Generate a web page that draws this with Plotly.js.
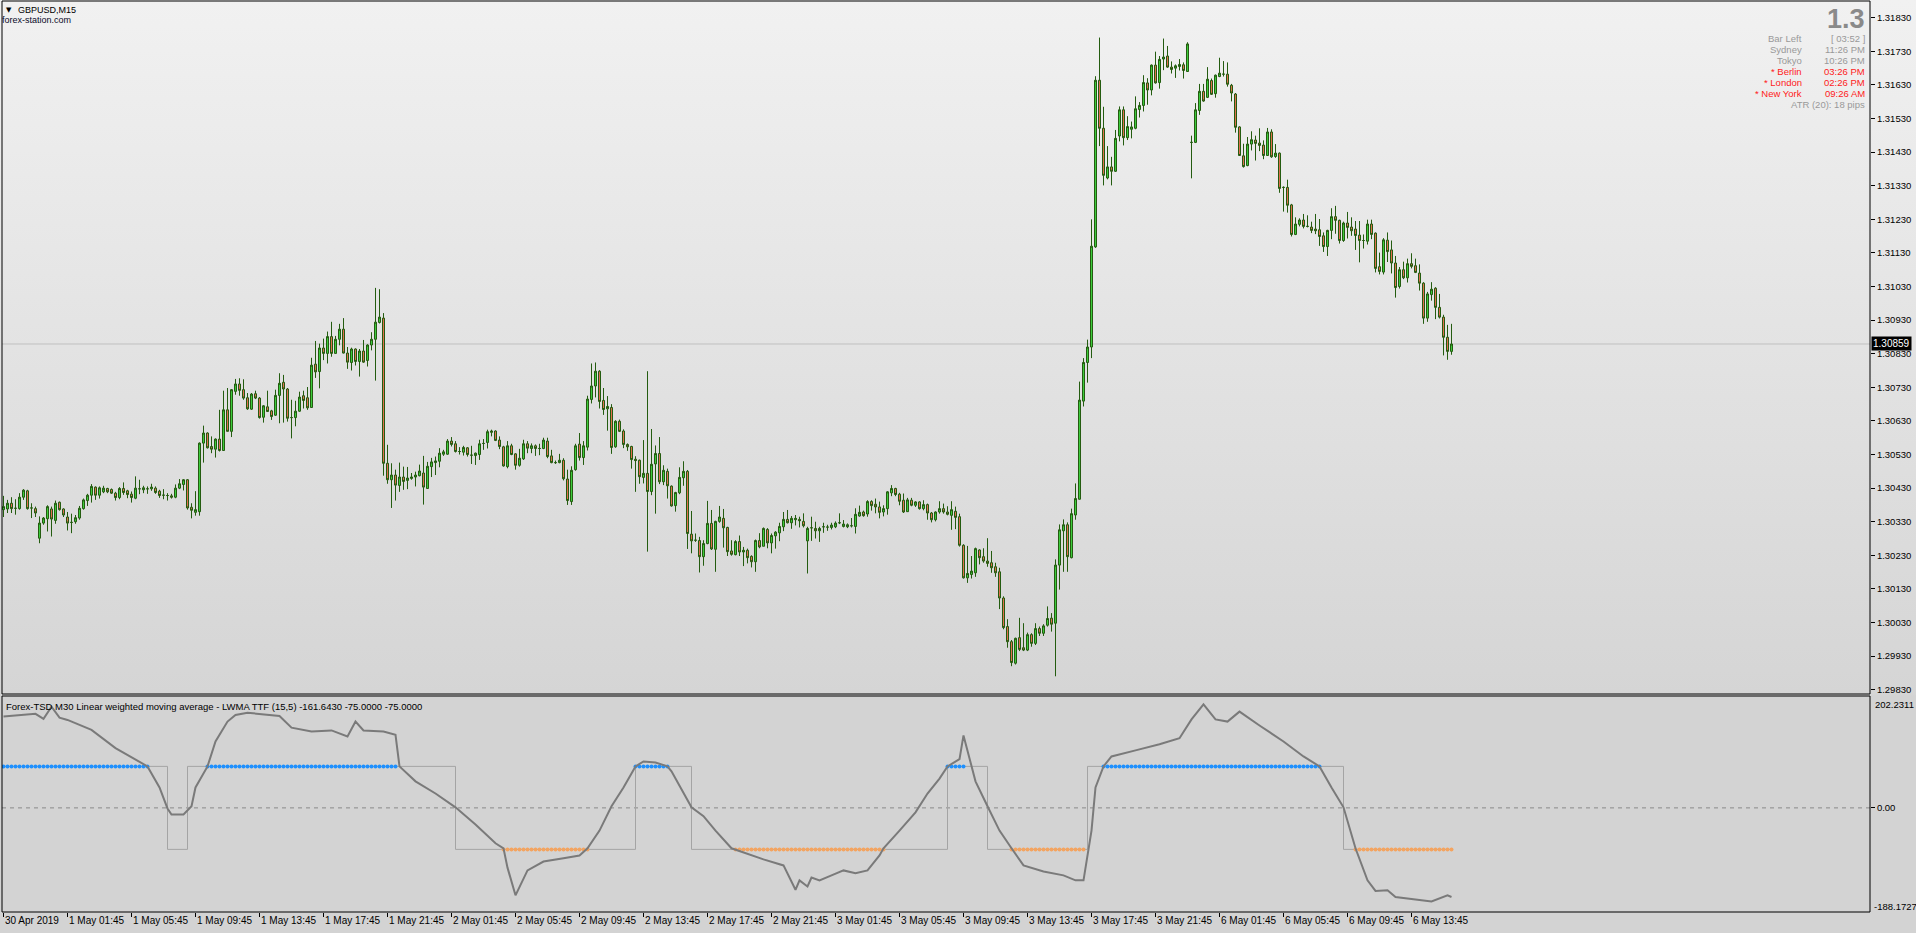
<!DOCTYPE html>
<html><head><meta charset="utf-8">
<script src="https://cdn.plot.ly/plotly-3.0.1.min.js"></script>
<style>
html,body{margin:0;padding:0;width:1916px;height:933px;overflow:hidden;
background:linear-gradient(to bottom,#f1f1f1 0px,#d5d5d5 694px,#d3d3d3 696px,#d3d3d3 933px);}
#chart{width:1916px;height:933px;}
</style></head><body><div id="chart"></div>
<script>
// ---------------- DATA ----------------
const symbolTitle = "GBPUSD,M15";
const siteTitle = "forex-station.com";
const indicatorTitle = "Forex-TSD M30 Linear weighted moving average - LWMA TTF (15,5) -161.6430 -75.0000 -75.0000";

const open = [1.30366,1.30368,1.30385,1.30370,1.30369,1.30403,1.30422,1.30371,1.30369,1.30281,
1.30326,1.30339,1.30368,1.30334,1.30388,1.30368,1.30344,1.30328,1.30330,1.30341,
1.30369,1.30393,1.30409,1.30433,1.30409,1.30419,1.30429,1.30426,1.30415,1.30402,
1.30429,1.30422,1.30412,1.30400,1.30428,1.30425,1.30428,1.30428,1.30430,1.30421,
1.30409,1.30408,1.30407,1.30403,1.30430,1.30441,1.30455,1.30373,1.30358,1.30360,
1.30564,1.30594,1.30554,1.30546,1.30576,1.30542,1.30663,1.30599,1.30718,1.30740,
1.30723,1.30699,1.30665,1.30711,1.30698,1.30641,1.30672,1.30660,1.30647,1.30706,
1.30745,1.30725,1.30640,1.30640,1.30659,1.30705,1.30699,1.30670,1.30799,1.30777,
1.30847,1.30831,1.30881,1.30831,1.30873,1.30903,1.30832,1.30804,1.30844,1.30807,
1.30838,1.30810,1.30856,1.30873,1.30923,1.30936,1.30504,1.30455,1.30469,1.30438,
1.30463,1.30453,1.30459,1.30463,1.30467,1.30475,1.30429,1.30494,1.30506,1.30510,
1.30531,1.30531,1.30570,1.30562,1.30539,1.30537,1.30550,1.30528,1.30527,1.30530,
1.30563,1.30566,1.30596,1.30600,1.30573,1.30553,1.30494,1.30556,1.30532,1.30498,
1.30517,1.30562,1.30548,1.30556,1.30548,1.30548,1.30570,1.30526,1.30506,1.30506,
1.30513,1.30457,1.30390,1.30485,1.30561,1.30521,1.30552,1.30694,1.30734,1.30778,
1.30691,1.30666,1.30670,1.30553,1.30629,1.30600,1.30560,1.30554,1.30516,1.30513,
1.30462,1.30474,1.30420,1.30502,1.30533,1.30449,1.30480,1.30436,1.30378,1.30416,
1.30461,1.30480,1.30293,1.30275,1.30274,1.30226,1.30265,1.30325,1.30248,1.30331,
1.30340,1.30313,1.30243,1.30232,1.30271,1.30240,1.30245,1.30227,1.30211,1.30274,
1.30257,1.30307,1.30267,1.30288,1.30297,1.30315,1.30337,1.30327,1.30336,1.30337,
1.30331,1.30273,1.30312,1.30310,1.30303,1.30315,1.30314,1.30313,1.30315,1.30327,
1.30316,1.30315,1.30318,1.30316,1.30347,1.30359,1.30353,1.30390,1.30382,1.30374,
1.30359,1.30369,1.30416,1.30429,1.30412,1.30394,1.30360,1.30394,1.30379,1.30389,
1.30369,1.30381,1.30356,1.30336,1.30359,1.30369,1.30359,1.30349,1.30361,1.30345,
1.30260,1.30163,1.30173,1.30178,1.30246,1.30226,1.30213,1.30208,1.30196,1.30181,
1.30103,1.30018,1.29973,1.29909,1.29985,1.29955,1.29948,1.29994,1.29968,1.30012,
1.29998,1.30022,1.30043,1.30028,1.30201,1.30303,1.30321,1.30223,1.30350,1.30397,
1.30689,1.30804,1.30850,1.31148,1.31644,1.31501,1.31353,1.31386,1.31373,1.31478,
1.31556,1.31473,1.31498,1.31501,1.31557,1.31569,1.31636,1.31615,1.31689,1.31637,
1.31707,1.31716,1.31683,1.31680,1.31685,1.31690,1.31670,1.31459,1.31459,1.31554,
1.31611,1.31593,1.31643,1.31604,1.31655,1.31662,1.31662,1.31629,1.31603,1.31505,
1.31419,1.31390,1.31454,1.31466,1.31457,1.31451,1.31420,1.31490,1.31417,1.31427,
1.31325,1.31325,1.31273,1.31185,1.31215,1.31228,1.31209,1.31207,1.31201,1.31199,
1.31181,1.31149,1.31197,1.31238,1.31227,1.31167,1.31219,1.31207,1.31201,1.31183,
1.31167,1.31165,1.31216,1.31189,1.31089,1.31073,1.31168,1.31139,1.31100,1.31030,
1.31080,1.31056,1.31098,1.31092,1.31070,1.31040,1.30936,1.31006,1.31025,1.30968,
1.30939,1.30879,1.30837];

const high = [1.30407,1.30395,1.30403,1.30397,1.30415,1.30427,1.30425,1.30385,1.30375,1.30346,
1.30344,1.30379,1.30375,1.30393,1.30390,1.30370,1.30359,1.30354,1.30350,1.30377,
1.30399,1.30413,1.30442,1.30435,1.30435,1.30437,1.30431,1.30429,1.30419,1.30433,
1.30447,1.30425,1.30420,1.30465,1.30455,1.30437,1.30435,1.30443,1.30435,1.30425,
1.30427,1.30415,1.30413,1.30441,1.30457,1.30457,1.30457,1.30385,1.30421,1.30566,
1.30616,1.30596,1.30584,1.30578,1.30663,1.30720,1.30728,1.30725,1.30755,1.30757,
1.30754,1.30713,1.30713,1.30720,1.30701,1.30677,1.30720,1.30663,1.30723,1.30772,
1.30767,1.30728,1.30693,1.30690,1.30717,1.30720,1.30731,1.30818,1.30868,1.30860,
1.30875,1.30896,1.30925,1.30883,1.30919,1.30936,1.30850,1.30848,1.30846,1.30844,
1.30871,1.30858,1.30894,1.31026,1.31022,1.30951,1.30559,1.30504,1.30485,1.30506,
1.30494,1.30493,1.30475,1.30479,1.30500,1.30526,1.30508,1.30520,1.30524,1.30549,
1.30544,1.30576,1.30582,1.30570,1.30552,1.30556,1.30552,1.30556,1.30536,1.30574,
1.30576,1.30604,1.30604,1.30602,1.30584,1.30556,1.30570,1.30562,1.30534,1.30547,
1.30574,1.30570,1.30563,1.30560,1.30562,1.30580,1.30580,1.30544,1.30512,1.30532,
1.30519,1.30485,1.30495,1.30562,1.30594,1.30570,1.30705,1.30801,1.30804,1.30781,
1.30728,1.30704,1.30680,1.30632,1.30634,1.30605,1.30563,1.30556,1.30525,1.30515,
1.30573,1.30778,1.30606,1.30557,1.30582,1.30498,1.30488,1.30438,1.30419,1.30492,
1.30510,1.30484,1.30362,1.30295,1.30285,1.30275,1.30392,1.30365,1.30333,1.30377,
1.30368,1.30315,1.30275,1.30275,1.30289,1.30255,1.30250,1.30230,1.30277,1.30296,
1.30313,1.30311,1.30295,1.30302,1.30327,1.30359,1.30365,1.30347,1.30350,1.30345,
1.30355,1.30315,1.30345,1.30330,1.30315,1.30327,1.30321,1.30327,1.30331,1.30355,
1.30335,1.30325,1.30341,1.30370,1.30378,1.30363,1.30394,1.30394,1.30399,1.30390,
1.30379,1.30421,1.30439,1.30431,1.30416,1.30414,1.30401,1.30401,1.30391,1.30391,
1.30394,1.30384,1.30359,1.30361,1.30391,1.30384,1.30376,1.30391,1.30375,1.30354,
1.30263,1.30258,1.30228,1.30253,1.30248,1.30251,1.30281,1.30243,1.30208,1.30193,
1.30108,1.30040,1.29978,1.29985,1.30044,1.30028,1.30000,1.29998,1.30028,1.30018,
1.30025,1.30078,1.30058,1.30218,1.30322,1.30337,1.30328,1.30369,1.30444,1.30747,
1.30817,1.30872,1.31230,1.31656,1.31771,1.31565,1.31448,1.31416,1.31496,1.31566,
1.31566,1.31537,1.31521,1.31596,1.31579,1.31659,1.31650,1.31691,1.31729,1.31716,
1.31768,1.31746,1.31700,1.31691,1.31707,1.31697,1.31757,1.31479,1.31576,1.31633,
1.31633,1.31683,1.31649,1.31661,1.31711,1.31701,1.31697,1.31633,1.31606,1.31507,
1.31455,1.31475,1.31492,1.31479,1.31501,1.31465,1.31502,1.31498,1.31454,1.31429,
1.31328,1.31348,1.31276,1.31236,1.31233,1.31246,1.31242,1.31223,1.31246,1.31231,
1.31191,1.31199,1.31263,1.31270,1.31229,1.31223,1.31252,1.31236,1.31225,1.31225,
1.31185,1.31229,1.31229,1.31191,1.31131,1.31174,1.31191,1.31167,1.31121,1.31088,
1.31104,1.31113,1.31129,1.31113,1.31096,1.31043,1.31014,1.31043,1.31028,1.31008,
1.30946,1.30916,1.30919];

const low = [1.30344,1.30356,1.30356,1.30351,1.30366,1.30395,1.30366,1.30341,1.30344,1.30266,
1.30321,1.30301,1.30286,1.30324,1.30363,1.30344,1.30304,1.30296,1.30324,1.30336,
1.30366,1.30377,1.30387,1.30395,1.30399,1.30415,1.30415,1.30413,1.30393,1.30397,
1.30410,1.30400,1.30387,1.30397,1.30412,1.30415,1.30413,1.30422,1.30413,1.30401,
1.30397,1.30393,1.30399,1.30400,1.30427,1.30423,1.30366,1.30340,1.30348,1.30348,
1.30506,1.30548,1.30534,1.30521,1.30539,1.30542,1.30599,1.30582,1.30708,1.30705,
1.30693,1.30663,1.30663,1.30695,1.30637,1.30625,1.30657,1.30633,1.30645,1.30623,
1.30625,1.30628,1.30578,1.30614,1.30657,1.30667,1.30663,1.30669,1.30758,1.30727,
1.30811,1.30801,1.30821,1.30831,1.30855,1.30831,1.30785,1.30780,1.30795,1.30762,
1.30803,1.30792,1.30840,1.30750,1.30920,1.30467,1.30443,1.30371,1.30393,1.30419,
1.30425,1.30427,1.30455,1.30435,1.30465,1.30381,1.30429,1.30463,1.30469,1.30492,
1.30526,1.30529,1.30554,1.30536,1.30530,1.30527,1.30524,1.30502,1.30499,1.30514,
1.30544,1.30548,1.30584,1.30570,1.30546,1.30494,1.30489,1.30528,1.30485,1.30494,
1.30514,1.30534,1.30534,1.30526,1.30528,1.30546,1.30519,1.30504,1.30502,1.30504,
1.30453,1.30380,1.30380,1.30482,1.30512,1.30499,1.30542,1.30682,1.30700,1.30667,
1.30648,1.30601,1.30532,1.30550,1.30597,1.30549,1.30541,1.30488,1.30419,1.30443,
1.30444,1.30241,1.30409,1.30354,1.30442,1.30439,1.30399,1.30375,1.30360,1.30412,
1.30437,1.30249,1.30236,1.30270,1.30179,1.30199,1.30263,1.30246,1.30181,1.30327,
1.30253,1.30228,1.30229,1.30230,1.30228,1.30198,1.30206,1.30194,1.30181,1.30251,
1.30257,1.30251,1.30236,1.30250,1.30272,1.30302,1.30325,1.30309,1.30319,1.30313,
1.30313,1.30176,1.30273,1.30280,1.30270,1.30297,1.30303,1.30307,1.30311,1.30323,
1.30313,1.30311,1.30313,1.30295,1.30345,1.30345,1.30345,1.30363,1.30355,1.30340,
1.30346,1.30351,1.30406,1.30406,1.30379,1.30356,1.30359,1.30376,1.30374,1.30366,
1.30364,1.30336,1.30328,1.30331,1.30354,1.30354,1.30349,1.30306,1.30308,1.30256,
1.30161,1.30148,1.30161,1.30166,1.30203,1.30208,1.30196,1.30178,1.30166,1.30070,
1.30010,1.29955,1.29900,1.29905,1.29945,1.29945,1.29945,1.29958,1.29963,1.29990,
1.29990,1.30018,1.30003,1.29870,1.30128,1.30181,1.30181,1.30221,1.30336,1.30396,
1.30673,1.30744,1.30817,1.31145,1.31448,1.31331,1.31349,1.31331,1.31371,1.31462,
1.31450,1.31466,1.31471,1.31498,1.31533,1.31551,1.31571,1.31599,1.31634,1.31619,
1.31674,1.31681,1.31664,1.31651,1.31673,1.31649,1.31669,1.31352,1.31457,1.31541,
1.31580,1.31591,1.31600,1.31592,1.31653,1.31655,1.31625,1.31581,1.31488,1.31419,
1.31384,1.31388,1.31435,1.31405,1.31433,1.31409,1.31419,1.31413,1.31413,1.31309,
1.31253,1.31250,1.31179,1.31183,1.31209,1.31203,1.31206,1.31189,1.31186,1.31151,
1.31133,1.31121,1.31171,1.31187,1.31158,1.31163,1.31173,1.31181,1.31139,1.31102,
1.31143,1.31155,1.31171,1.31072,1.31066,1.31066,1.31103,1.31069,1.30997,1.31024,
1.31052,1.31042,1.31084,1.31070,1.31018,1.30919,1.30925,1.30988,1.30933,1.30935,
1.30825,1.30812,1.30827];

const close = [1.30375,1.30385,1.30369,1.30370,1.30403,1.30424,1.30369,1.30371,1.30356,1.30326,
1.30341,1.30375,1.30338,1.30385,1.30366,1.30350,1.30326,1.30328,1.30342,1.30370,
1.30395,1.30409,1.30435,1.30409,1.30431,1.30430,1.30419,1.30415,1.30402,1.30429,
1.30417,1.30411,1.30402,1.30430,1.30428,1.30431,1.30428,1.30433,1.30417,1.30408,
1.30409,1.30408,1.30403,1.30430,1.30443,1.30455,1.30371,1.30364,1.30366,1.30564,
1.30594,1.30550,1.30546,1.30576,1.30542,1.30663,1.30599,1.30723,1.30740,1.30721,
1.30698,1.30666,1.30710,1.30698,1.30640,1.30675,1.30658,1.30643,1.30706,1.30742,
1.30725,1.30638,1.30640,1.30659,1.30701,1.30691,1.30669,1.30796,1.30776,1.30847,
1.30831,1.30881,1.30831,1.30873,1.30903,1.30832,1.30805,1.30844,1.30807,1.30838,
1.30805,1.30856,1.30873,1.30924,1.30939,1.30504,1.30455,1.30469,1.30439,1.30463,
1.30450,1.30460,1.30463,1.30469,1.30481,1.30433,1.30495,1.30508,1.30511,1.30534,
1.30538,1.30570,1.30560,1.30539,1.30539,1.30551,1.30530,1.30528,1.30534,1.30562,
1.30563,1.30598,1.30600,1.30572,1.30554,1.30496,1.30556,1.30530,1.30498,1.30519,
1.30562,1.30549,1.30556,1.30548,1.30548,1.30573,1.30524,1.30506,1.30506,1.30513,
1.30458,1.30393,1.30483,1.30556,1.30521,1.30556,1.30695,1.30734,1.30778,1.30688,
1.30664,1.30673,1.30551,1.30629,1.30599,1.30560,1.30553,1.30515,1.30512,1.30464,
1.30474,1.30420,1.30501,1.30533,1.30449,1.30483,1.30437,1.30377,1.30417,1.30462,
1.30480,1.30295,1.30273,1.30275,1.30226,1.30265,1.30325,1.30249,1.30331,1.30344,
1.30312,1.30241,1.30233,1.30271,1.30240,1.30245,1.30223,1.30211,1.30274,1.30255,
1.30310,1.30267,1.30289,1.30299,1.30316,1.30337,1.30327,1.30340,1.30340,1.30333,
1.30318,1.30310,1.30312,1.30303,1.30310,1.30315,1.30314,1.30320,1.30326,1.30327,
1.30323,1.30321,1.30318,1.30352,1.30358,1.30348,1.30390,1.30378,1.30374,1.30358,
1.30369,1.30419,1.30429,1.30411,1.30391,1.30359,1.30395,1.30379,1.30389,1.30369,
1.30381,1.30356,1.30336,1.30359,1.30369,1.30359,1.30352,1.30366,1.30343,1.30260,
1.30163,1.30176,1.30183,1.30250,1.30223,1.30213,1.30206,1.30193,1.30178,1.30103,
1.30015,1.29973,1.29911,1.29983,1.29950,1.29948,1.29994,1.29968,1.30012,1.29998,
1.30020,1.30042,1.30025,1.30201,1.30306,1.30321,1.30226,1.30354,1.30399,1.30692,
1.30804,1.30850,1.31150,1.31644,1.31501,1.31361,1.31386,1.31373,1.31471,1.31556,
1.31473,1.31506,1.31505,1.31559,1.31569,1.31637,1.31615,1.31689,1.31636,1.31706,
1.31713,1.31683,1.31676,1.31687,1.31691,1.31673,1.31752,1.31459,1.31556,1.31611,
1.31582,1.31647,1.31602,1.31659,1.31665,1.31662,1.31632,1.31606,1.31504,1.31420,
1.31387,1.31454,1.31467,1.31456,1.31450,1.31420,1.31490,1.31416,1.31427,1.31322,
1.31325,1.31272,1.31185,1.31216,1.31228,1.31209,1.31209,1.31197,1.31196,1.31179,
1.31149,1.31197,1.31238,1.31227,1.31167,1.31219,1.31206,1.31196,1.31182,1.31167,
1.31167,1.31216,1.31185,1.31084,1.31075,1.31169,1.31134,1.31100,1.31027,1.31080,
1.31056,1.31098,1.31090,1.31072,1.31040,1.30936,1.31008,1.31022,1.30968,1.30939,
1.30879,1.30837,1.30859];

const lastPrice = 1.30859;
const lastPriceLabel = "1.30859";

const priceTickLabels = ["1.29830","1.29930","1.30030","1.30130","1.30230","1.30330","1.30430",
"1.30530","1.30630","1.30730","1.30830","1.30930","1.31030","1.31130","1.31230","1.31330",
"1.31430","1.31530","1.31630","1.31730","1.31830"];

const timeTickBars = [0,16,32,48,64,80,96,112,128,144,160,176,192,208,224,240,256,272,288,304,320,336,352];
const timeTickLabels = ["30 Apr 2019","1 May 01:45","1 May 05:45","1 May 09:45","1 May 13:45","1 May 17:45",
"1 May 21:45","2 May 01:45","2 May 05:45","2 May 09:45","2 May 13:45","2 May 17:45","2 May 21:45",
"3 May 01:45","3 May 05:45","3 May 09:45","3 May 13:45","3 May 17:45","3 May 21:45",
"6 May 01:45","6 May 05:45","6 May 09:45","6 May 13:45"];

// TTF indicator (main line), sampled at bar indices
const ttfBars = [0,6,8,10,12,14,16,22,28,36,39,41,42,45,47,48,51,53,56,58,
61,69,72,77,82,86,88,90,95,98,99,103,108,113,118,123,125,126,128,131,
135,140,144,146,149,152,155,158,160,163,166,167,170,172,175,178,182,187,190,195,
198,199,201,202,204,207,210,213,216,219,220,224,228,231,234,236,239,240,242,243,
246,249,252,255,260,265,268,270,272,273,275,277,283,289,294,297,300,303,306,309,
314,320,325,329,332,335,338,341,343,346,348,352,355,357,361,362];
const ttfValues = [165,168,170,161,183,163,159,141,108,75,37,-1,-12,-12,3,37,75,120,156,168,
172,166,145,138,140,129,156,140,138,132,75,48,26,1,-30,-64,-73,-108,-158,-113,
-97,-91,-86,-73,-41,3,37,75,84,82,75,66,26,1,-15,-41,-73,-86,-93,-104,
-148,-131,-142,-126,-131,-122,-113,-118,-113,-86,-73,-41,-8,26,53,75,88,131,75,48,
3,-41,-73,-104,-115,-122,-131,-131,-41,37,75,93,104,115,126,160,187,160,156,174,
149,120,93,75,37,1,-73,-131,-150,-149,-161,-165,-168,-169,-158,-161];

// signal step line (level changes)
const stepBars = [0,41,46,113,158,172,236,246,271,335,362];
const stepLevels = [75,-75,75,-75,75,-75,75,-75,75,-75,-75];

// dotted level markers
const upLevel = 75, downLevel = -75;
const upZones = [[0,36],[51,98],[158,166],[236,240],[275,329]];
const downZones = [[125,146],[183,220],[252,270],[338,362]];

const indMax = 202.2311, indMin = -188.1727;
const indMaxLabel = "202.2311", indMinLabel = "-188.1727", indZeroLabel = "0.00";

const bigPriceText = "1.3";
const infoLabels = ["Bar Left","Sydney","Tokyo","* Berlin","* London","* New York"];
const infoValues = ["[ 03:52 ]","11:26 PM","10:26 PM","03:26 PM","02:26 PM","09:26 AM"];
const infoActive = [false,false,false,true,true,true];
const atrText = "ATR (20): 18 pips";

// ---------------- LAYOUT HELPERS ----------------
const W = 1916, H = 933;
const ML = 2, MR = 46, MT = 1, MB = 21;
const plotW = W - ML - MR, plotH = H - MT - MB;
const PX = px => (px - ML) / plotW;
const PY = py => (H - MB - py) / plotH;
const FONT = "Liberation Sans, Arial, sans-serif";

const bars = close.map((_, i) => i);
function zoneX(zones){ const xs=[]; zones.forEach(([a,b])=>{ for(let i=a;i<=b;i++) xs.push(i); }); return xs; }
const upX = zoneX(upZones), downX = zoneX(downZones);

const traces = [
  { type:'candlestick', x:bars, open:open, high:high, low:low, close:close,
    xaxis:'x', yaxis:'y', whiskerwidth:0, hoverinfo:'skip',
    increasing:{ line:{color:'#245c10', width:1}, fillcolor:'#3ccc3c' },
    decreasing:{ line:{color:'#245c10', width:1}, fillcolor:'#e0704e' } },
  { type:'scatter', mode:'lines', x:stepBars, y:stepLevels, xaxis:'x', yaxis:'y2',
    line:{color:'#a4a4a4', width:1, shape:'hv'}, hoverinfo:'skip' },
  { type:'scatter', mode:'markers', x:upX, y:upX.map(()=>upLevel), xaxis:'x', yaxis:'y2',
    marker:{color:'#1e90ff', size:4}, hoverinfo:'skip' },
  { type:'scatter', mode:'markers', x:downX, y:downX.map(()=>downLevel), xaxis:'x', yaxis:'y2',
    marker:{color:'#f4a460', size:4}, hoverinfo:'skip' },
  { type:'scatter', mode:'lines', x:ttfBars, y:ttfValues, xaxis:'x', yaxis:'y2',
    line:{color:'#7a7a7a', width:2}, hoverinfo:'skip' }
];

const annotations = [];
function txt(text, xpx, ypx, o){
  annotations.push(Object.assign({ text:text, xref:'paper', yref:'paper', x:PX(xpx), y:PY(ypx),
    xanchor:'left', yanchor:'middle', showarrow:false, borderpad:0,
    font:{family:FONT, size:10, color:'#000'} }, o||{}));
}
txt("▼", 5, 10, {font:{family:"DejaVu Sans", size:7, color:'#000'}});
txt(symbolTitle, 17, 9.5, {font:{family:FONT, size:9, color:'#000'}});
txt(siteTitle, 1, 19.5, {font:{family:FONT, size:9, color:'#0a0a2a'}});
txt(indicatorTitle, 5, 706, {font:{family:FONT, size:9.5, color:'#000'}});
txt(indMaxLabel, 1874, 704, {font:{family:FONT, size:9.5, color:'#000'}});
txt(indMinLabel, 1873, 906, {font:{family:FONT, size:9.5, color:'#000'}});
txt(bigPriceText, 1866, 19, {xanchor:'right', font:{family:FONT, size:27, color:'#8a8a8a', weight:'bold'}});
infoLabels.forEach((lab, i) => {
  const y = 39 + i*11;
  const col = infoActive[i] ? '#ff1a1a' : '#999999';
  txt(lab, 1803, y, {xanchor:'right', font:{family:FONT, size:9.5, color:col}});
  txt(infoValues[i], 1866, y, {xanchor:'right', font:{family:FONT, size:9.5, color:col}});
});
txt(atrText, 1866, 105, {xanchor:'right', font:{family:FONT, size:9.5, color:'#999999'}});
// last price box
annotations.push({ text:lastPriceLabel, xref:'paper', yref:'y', x:PX(1871), y:lastPrice,
  xanchor:'left', yanchor:'middle', showarrow:false, bgcolor:'#000', borderpad:1,
  font:{family:FONT, size:10, color:'#fff'} });
// time labels
timeTickBars.forEach((b, i) => {
  annotations.push({ text:timeTickLabels[i], xref:'x', yref:'paper', x:b, y:PY(914),
    xanchor:'left', yanchor:'top', showarrow:false, borderpad:0,
    font:{family:FONT, size:10, color:'#000'} });
});

const shapes = [
  { type:'line', xref:'paper', yref:'y', x0:0, x1:1, y0:lastPrice, y1:lastPrice,
    line:{color:'#c0c0c0', width:1}, layer:'below' },
  { type:'line', xref:'paper', yref:'y2', x0:0, x1:1, y0:0, y1:0,
    line:{color:'#8a8a8a', width:1, dash:'4px,4px'}, layer:'below' },
  { type:'rect', xref:'paper', yref:'paper', x0:0, x1:1, y0:PY(694), y1:PY(1),
    line:{color:'#000', width:1} },
  { type:'rect', xref:'paper', yref:'paper', x0:0, x1:1, y0:0, y1:PY(696),
    line:{color:'#000', width:1} }
];

const layout = {
  width:W, height:H,
  margin:{l:ML, r:MR, t:MT, b:MB, autoexpand:false},
  paper_bgcolor:'rgba(0,0,0,0)', plot_bgcolor:'rgba(0,0,0,0)',
  font:{family:FONT, size:10, color:'#000'},
  showlegend:false, hovermode:false, boxgap:0.5, boxgroupgap:0,
  xaxis:{ domain:[0,1], range:[-0.375, 466.625], anchor:'y2', type:'linear',
    showgrid:false, zeroline:false, showline:false, ticks:'outside', ticklen:4,
    tickcolor:'#000', tickwidth:1, tickmode:'array', tickvals:timeTickBars,
    showticklabels:false, rangeslider:{visible:false}, fixedrange:true },
  yaxis:{ domain:[PY(694), PY(1)], range:[1.298173, 1.318798], side:'right', anchor:'x',
    showgrid:false, zeroline:false, showline:false, ticks:'outside', ticklen:4,
    tickcolor:'#000', tickmode:'array', tickvals:priceTickLabels.map(parseFloat),
    ticktext:priceTickLabels, tickfont:{family:FONT, size:9.5, color:'#000'}, fixedrange:true },
  yaxis2:{ domain:[0, PY(696)], range:[indMin, indMax], side:'right', anchor:'x',
    showgrid:false, zeroline:false, showline:false, ticks:'outside', ticklen:4,
    tickcolor:'#000', tickmode:'array', tickvals:[0], ticktext:[indZeroLabel],
    tickfont:{family:FONT, size:9.5, color:'#000'}, fixedrange:true },
  shapes:shapes, annotations:annotations
};

Plotly.newPlot('chart', traces, layout, {staticPlot:true, displayModeBar:false});
</script>
</body></html>
